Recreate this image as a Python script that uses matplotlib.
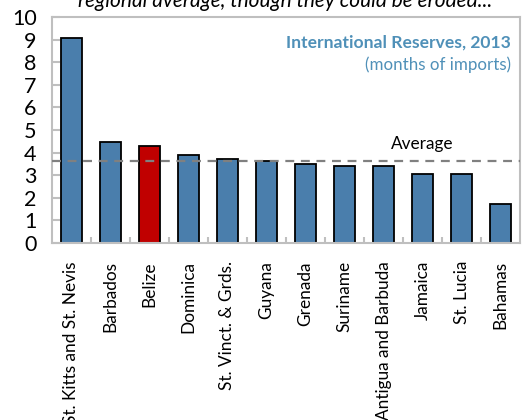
import matplotlib.pyplot as plt
import numpy as np

plt.rcParams['font.family'] = ['Lato', 'DejaVu Sans']

countries = ['St. Kitts and St. Nevis', 'Barbados', 'Belize', 'Dominica',
             'St. Vinct. & Grds.', 'Guyana', 'Grenada', 'Suriname',
             'Antigua and Barbuda', 'Jamaica', 'St. Lucia', 'Bahamas']
reserves = [9.06, 4.47, 4.29, 3.89, 3.72, 3.64, 3.48, 3.39, 3.39, 3.07, 3.07, 1.73]
average = 3.63
highlight = 'Belize'

blue = '#4A7EAC'
red = '#C00000'
grid_gray = '#BFBFBF'
title_blue = '#4F90B8'

fig = plt.figure(figsize=(5.23, 4.2), dpi=100)
ax = fig.add_axes([0.0994, 0.4214, 0.8949, 0.5381])

x = np.arange(len(countries))
colors = [red if c == highlight else blue for c in countries]
ax.bar(x, reserves, width=0.55, color=colors, edgecolor='black', linewidth=1.3, zorder=2)
ax.axhline(average, color='#808080', linestyle=(0, (4, 3)), linewidth=1.6, zorder=3)

ax.set_xlim(-0.5, len(countries) - 0.5)
ax.set_ylim(0, 10)
ax.set_yticks(range(0, 11))
ax.tick_params(axis='y', direction='in', length=6, width=1.5, color=grid_gray,
               labelsize=15.5, pad=11)

# category labels and boundary ticks
ax.set_xticks(x)
ax.set_xticklabels(countries, rotation=90, fontsize=12.4)
ax.tick_params(axis='x', length=0, pad=13)
ax.set_xticks(np.arange(0.5, len(countries) - 1, 1), minor=True)
ax.tick_params(axis='x', which='minor', direction='in', length=4, width=1.5, color=grid_gray)

for s in ax.spines.values():
    s.set_color(grid_gray)
    s.set_linewidth(1.5)

ax.text(0.98, 0.885, 'International Reserves, 2013', transform=ax.transAxes,
        ha='right', va='center', fontsize=12.6, fontweight='bold', color=title_blue)
ax.text(0.98, 0.79, '(months of imports)', transform=ax.transAxes,
        ha='right', va='center', fontsize=12.2, color=title_blue)
ax.text(9.0, average + 0.75, 'Average', ha='center', va='center', fontsize=12.4)

# subtitle line that is cut by the top edge in the original
fig.text(0.545, 0.983, 'regional average, though they could be eroded...',
         ha='center', va='baseline', fontsize=15, style='italic')

fig.savefig('out.png', dpi=100)
